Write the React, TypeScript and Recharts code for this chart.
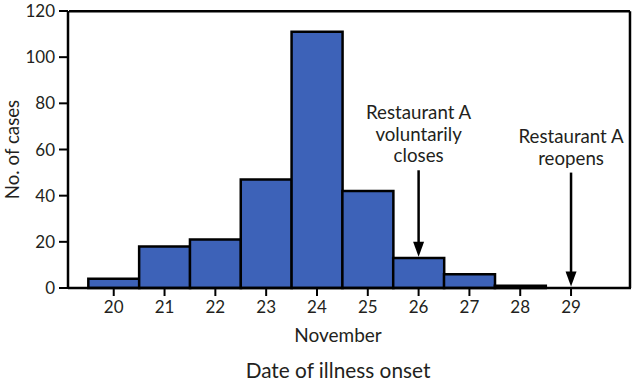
import { BarChart, Bar, XAxis, YAxis, ReferenceLine, Label } from "recharts"

const days = [20, 21, 22, 23, 24, 25, 26, 27, 28, 29]
const cases = [4, 18, 21, 47, 111, 42, 13, 6, 1, 0]
const yTicks = [0, 20, 40, 60, 80, 100, 120]
const xDomain = [19.1, 30.18]
const yDomain = [0, 120]

// arrows: where they point and what they say
const notes = [
    { day: 26, from: 51, to: 13.5, lines: ["Restaurant A", "voluntarily", "closes"] },
    { day: 29, from: 50, to: 0.6, lines: ["Restaurant A", "reopens"] },
]

// top and right sides of the frame, kept just inside the domain
const frameLeft = 19.12
const frameRight = 30.16
const frameTop = 119.9
const frameBottom = 0.05

const data = days.map((d, i) => ({ day: d, cases: cases[i] }))

const FONT = "Lato, 'Open Sans', sans-serif"
const INK = "#231f20"

const Arrow = (props: any, lines: string[]) => {
    const { x1, y1, x2, y2 } = props
    const head = 15
    const half = 5.5
    return (
        <g>
            <line x1={x1} y1={y1} x2={x2} y2={y2 - head + 2} stroke="#000" strokeWidth={2.5} />
            <polygon points={`${x2 - half},${y2 - head} ${x2 + half},${y2 - head} ${x2},${y2}`} fill="#000" />
            {lines.map((t, i) => (
                <text
                    key={t}
                    x={x1}
                    y={y1 - 15 - (lines.length - 1 - i) * 21.7}
                    textAnchor="middle"
                    dominantBaseline="central"
                    fontFamily={FONT}
                    fontSize={18.7}
                    fill={INK}
                >
                    {t}
                </text>
            ))}
        </g>
    )
}

const FrameLine = (p: any) => <line x1={p.x1} y1={p.y1} x2={p.x2} y2={p.y2} stroke="#000" strokeWidth={2.5} />

export default function App() {
    return (
        <div style={{ position: "absolute", left: 0, top: 0, background: "#fff" }}>
            <BarChart
                width={635}
                height={386}
                data={data}
                margin={{ top: 11, right: 4, left: 0, bottom: 0 }}
                barCategoryGap={0}
                barGap={0}
            >
                <XAxis
                    dataKey="day"
                    type="number"
                    domain={xDomain}
                    ticks={days}
                    allowDataOverflow
                    height={98}
                    tickSize={8}
                    tickMargin={5}
                    stroke="#000"
                    axisLine={{ stroke: "#000", strokeWidth: 2.5 }}
                    tickLine={{ stroke: "#000", strokeWidth: 2 }}
                    tick={{ fill: INK, fontSize: 17, fontFamily: FONT }}
                    interval={0}
                >
                    <Label
                        content={({ viewBox }: any) => (
                            <g fontFamily={FONT} fill={INK} textAnchor="middle">
                                <text x={338} y={viewBox.y + 46} dominantBaseline="central" fontSize={19}>
                                    November
                                </text>
                                <text x={338} y={viewBox.y + 81} dominantBaseline="central" fontSize={20.8}>
                                    Date of illness onset
                                </text>
                            </g>
                        )}
                    />
                </XAxis>
                <YAxis
                    domain={yDomain}
                    ticks={yTicks}
                    width={68}
                    tickSize={9}
                    tickMargin={4}
                    axisLine={{ stroke: "#000", strokeWidth: 2.5 }}
                    tickLine={{ stroke: "#000", strokeWidth: 2 }}
                    tick={{ fill: INK, fontSize: 17, fontFamily: FONT }}
                    interval={0}
                >
                    <Label
                        content={({ viewBox }: any) => (
                            <text
                                x={12}
                                y={viewBox.y + viewBox.height / 2}
                                transform={`rotate(-90 12 ${viewBox.y + viewBox.height / 2})`}
                                textAnchor="middle"
                                dominantBaseline="central"
                                fontFamily={FONT}
                                fontSize={18.7}
                                fill={INK}
                            >
                                No. of cases
                            </text>
                        )}
                    />
                </YAxis>
                <Bar dataKey="cases" fill="#3d62b8" stroke="#000" strokeWidth={2.5} isAnimationActive={false} />
                <ReferenceLine
                    segment={[
                        { x: frameLeft, y: frameTop },
                        { x: frameRight, y: frameTop },
                    ]}
                    shape={FrameLine}
                />
                <ReferenceLine
                    segment={[
                        { x: frameRight, y: frameTop },
                        { x: frameRight, y: frameBottom },
                    ]}
                    shape={FrameLine}
                />
                {notes.map((n) => (
                    <ReferenceLine
                        key={n.day}
                        segment={[
                            { x: n.day, y: n.from },
                            { x: n.day, y: n.to },
                        ]}
                        shape={(p: any) => Arrow(p, n.lines)}
                    />
                ))}
            </BarChart>
        </div>
    )
}
